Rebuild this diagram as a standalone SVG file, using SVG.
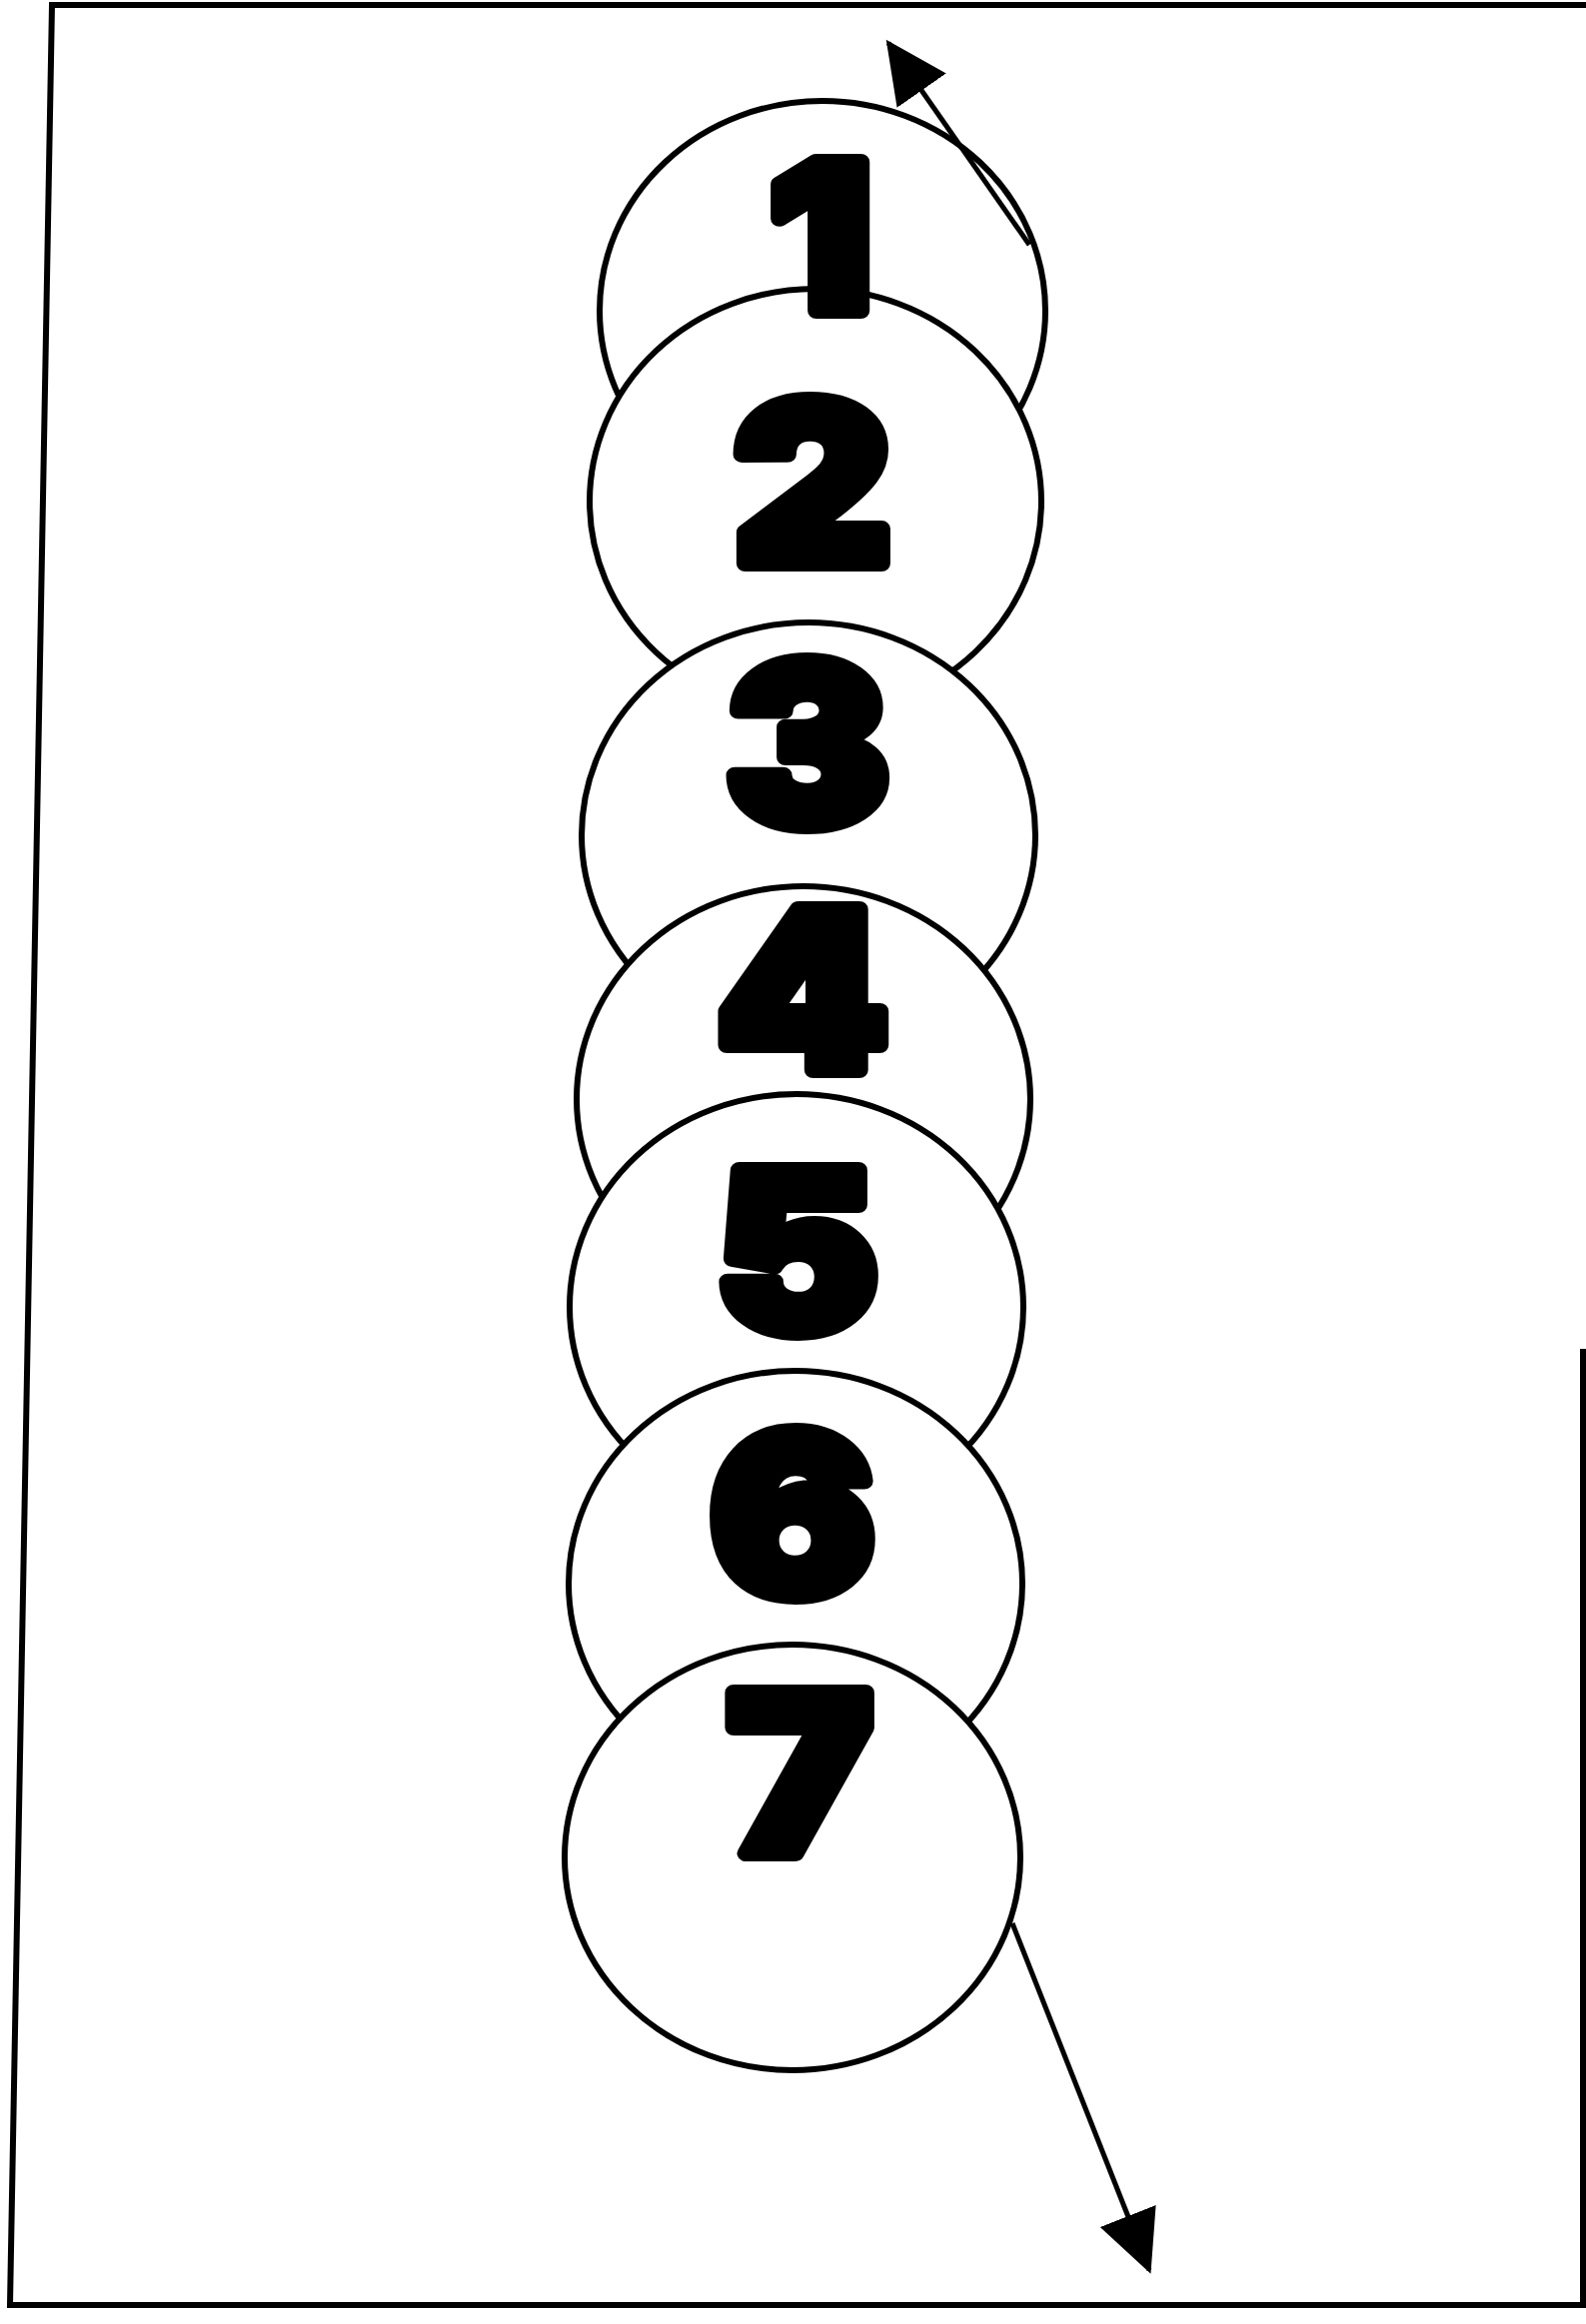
<svg xmlns="http://www.w3.org/2000/svg" width="1587" height="2326" viewBox="0 0 1587 2326">
<style>
.frame{fill:none;stroke:#000;stroke-width:6}
.disc{fill:#fff;stroke:#000;stroke-width:6}
.ring{fill:none;stroke:#000;stroke-width:6}
.num{font-family:Inter,"Liberation Sans",sans-serif;font-weight:900;font-size:222px;fill:#000;stroke:#000;stroke-width:16;stroke-linejoin:round;text-anchor:middle}
.link{fill:none;stroke:#000;stroke-width:5}
</style>
<defs>
<marker id="arrow" markerUnits="userSpaceOnUse" markerWidth="64" markerHeight="64" refX="58" refY="32" orient="auto" viewBox="0 0 64 64">
<path d="M0,2 L62,32 L0,62 Z" fill="#000"/>
</marker>
<mask id="m1" maskUnits="userSpaceOnUse" x="0" y="0" width="1587" height="2326">
<rect x="0" y="0" width="1587" height="2326" fill="#fff"/>
<ellipse cx="816" cy="502" rx="224" ry="211" fill="#000"/>
</mask>
</defs>
<rect x="0" y="0" width="1587" height="2326" fill="#fff"/>
<g id="frame">
<polyline class="frame" points="1587,5 52,5 10,2307 1587,2307"/>
<line class="frame" x1="1584" y1="1350" x2="1584" y2="2307"/>
</g>
<g id="node-2"><ellipse class="disc" cx="816" cy="502" rx="226" ry="213"/><text class="num" transform="translate(813,564) scale(1.1,1)">2</text></g>
<g id="node-1"><ellipse class="ring" cx="823" cy="311" rx="223" ry="210" mask="url(#m1)"/><text class="num" style="font-size:205px" transform="translate(821,311) scale(1.1,1)">1</text></g>
<g id="node-3"><ellipse class="disc" cx="809" cy="836" rx="227" ry="213"/><text class="num" transform="translate(808,825) scale(1.1,1)">3</text></g>
<g id="node-4"><ellipse class="disc" cx="804" cy="1100" rx="227" ry="213"/><text class="num" transform="translate(803,1071) scale(1.1,1)">4</text></g>
<g id="node-5"><ellipse class="disc" cx="797" cy="1308" rx="227" ry="213"/><text class="num" transform="translate(797,1332) scale(1.1,1)">5</text></g>
<g id="node-6"><ellipse class="disc" cx="796" cy="1585" rx="227" ry="213"/><text class="num" transform="translate(793,1596) scale(1.1,1)">6</text></g>
<g id="node-7"><ellipse class="disc" cx="793" cy="1859" rx="228" ry="213"/><text class="num" transform="translate(800,1855) scale(1.1,1)">7</text></g>
<g id="connectors">
<line class="link" x1="1030" y1="245" x2="889" y2="43" marker-end="url(#arrow)"/>
<line class="link" x1="1013" y1="1925" x2="1150" y2="2272" marker-end="url(#arrow)"/>
</g>
</svg>
